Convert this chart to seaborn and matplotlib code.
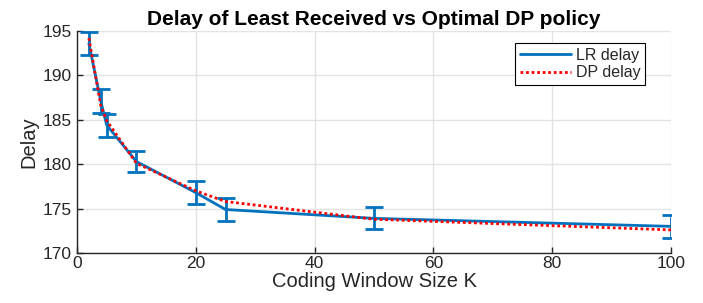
import matplotlib
matplotlib.use("Agg")
import matplotlib.pyplot as plt
import pandas as pd
import seaborn as sns

window_k = [2, 4, 5, 10, 20, 25, 50, 100]
lr_delay = [193.6, 187.1, 184.4, 180.3, 176.8, 174.9, 173.9, 173.0]
lr_err = [1.25, 1.35, 1.3, 1.15, 1.3, 1.25, 1.25, 1.3]
dp_delay = [194.2, 186.6, 184.9, 180.1, 177.0, 175.8, 173.8, 172.6]

BLUE = "#0072BD"


def main():
    sns.set_theme(style="whitegrid")
    plt.rcParams["font.family"] = ["Liberation Sans", "DejaVu Sans"]

    df = pd.DataFrame({
        "K": window_k * 2,
        "delay": lr_delay + dp_delay,
        "series": ["LR delay"] * len(window_k) + ["DP delay"] * len(window_k),
    })

    fig = plt.figure(figsize=(7.03, 3.03), dpi=100)
    ax = fig.add_axes([77 / 703, 1 - 253 / 303, (671 - 77) / 703, (253 - 31) / 303])

    sns.lineplot(
        data=df, x="K", y="delay", hue="series", style="series",
        palette={"LR delay": BLUE, "DP delay": "red"},
        dashes={"LR delay": "", "DP delay": (1, 1)},
        linewidth=2, ax=ax, zorder=3,
    )
    ax.errorbar(window_k, lr_delay, yerr=lr_err, fmt="none", ecolor=BLUE,
                elinewidth=2, capsize=6.5, capthick=2, zorder=2)

    ax.set_xlim(0, 100)
    ax.set_ylim(170, 195)
    ax.set_xticks([0, 20, 40, 60, 80, 100])
    ax.set_yticks([170, 175, 180, 185, 190, 195])
    ax.set_title("Delay of Least Received vs Optimal DP policy",
                 fontsize=15, fontweight="bold", color="black", pad=4)
    ax.set_xlabel("Coding Window Size K", fontsize=14.5, color="#262626", labelpad=1)
    ax.set_ylabel("Delay", fontsize=14.5, color="#262626", labelpad=3)

    ax.grid(True, color="#e3e3e3", linewidth=1)
    for side in ["top", "right"]:
        ax.spines[side].set_visible(False)
    for side in ["left", "bottom"]:
        ax.spines[side].set_color("#262626")
        ax.spines[side].set_linewidth(1)
    ax.tick_params(direction="in", length=4, width=1, color="#262626",
                   labelsize=12.5, labelcolor="#262626", pad=4,
                   bottom=True, left=True)
    ax.tick_params(axis="x", pad=2)

    leg = ax.legend(loc="upper right", fontsize=11.5, frameon=True, fancybox=False,
                    edgecolor="black", framealpha=1, handlelength=3.2,
                    borderpad=0.3, labelspacing=0.15, handletextpad=0.3,
                    borderaxespad=0, bbox_to_anchor=(0.957, 0.946))
    leg.get_frame().set_linewidth(0.8)

    fig.savefig("out.png", dpi=100)


if __name__ == "__main__":
    main()
